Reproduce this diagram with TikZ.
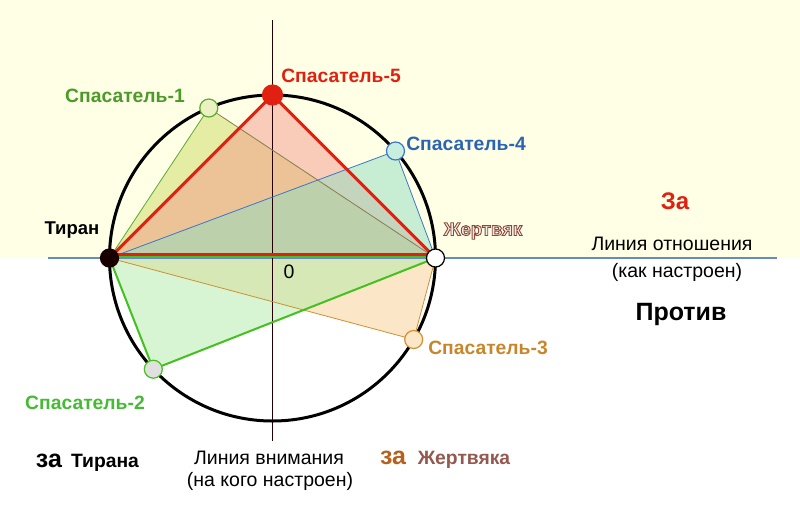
\documentclass[tikz,border=0pt]{standalone}
\usepackage{fontspec}
\setmainfont{Liberation Sans}
\definecolor{bgyellow}{HTML}{FFFFE6}
\definecolor{cone}{HTML}{4C9A2A}
\definecolor{coneline}{HTML}{5AAA30}
\definecolor{conefill}{HTML}{CDDD64}
\definecolor{cfive}{HTML}{E02010}
\definecolor{cfivefill}{HTML}{F29A8C}
\definecolor{cfour}{HTML}{2A64B4}
\definecolor{cfourline}{HTML}{3A78C8}
\definecolor{cfourfill}{HTML}{91DDC2}
\definecolor{cthree}{HTML}{C8862A}
\definecolor{cthreeline}{HTML}{D09030}
\definecolor{cthreefill}{HTML}{F9CD91}
\definecolor{ctwo}{HTML}{44BB33}
\definecolor{ctwoline}{HTML}{44C020}
\definecolor{ctwofill}{HTML}{AFEBA5}
\definecolor{axisblue}{HTML}{6688CC}
\definecolor{zhlight}{HTML}{F7ECE4}
\definecolor{zaorange}{HTML}{B5601E}
\definecolor{zhtext}{HTML}{93584E}
\definecolor{olivedge}{HTML}{8A7A50}
\newcommand{\outlinedtext}[1]{\special{pdf:literal direct 0.545 0.29 0.227 RG 0.9 w 2 Tr}#1\special{pdf:literal direct 0 Tr}}
\begin{document}
\begin{tikzpicture}[x=1pt,y=-1pt,
  lbl/.style={font=\bfseries\fontsize{19.3}{22}\selectfont, inner sep=0pt},
  txt/.style={font=\fontsize{19.5}{22}\selectfont, inner sep=0pt},
  ptmark/.style={circle, inner sep=0pt, minimum size=18pt, line width=1.2pt},
  thinedge/.style={line width=0.8pt},
  trifill/.style={fill opacity=0.5},
]
\useasboundingbox (0,0) rectangle (800,507);
\fill[bgyellow] (0,0) rectangle (800,258);
% geometry
\coordinate (C) at (272.5,258);
\coordinate (pT) at (109.5,258);
\coordinate (pZ) at (435.5,258);
\coordinate (pS5) at (272.5,95);
\coordinate (pS1) at (208.8,108);
\coordinate (pS4) at (395.5,151);
\coordinate (pS3) at (413.7,339.5);
\coordinate (pS2) at (153.3,369.2);
\coordinate (hL) at (48,258);
\coordinate (hR) at (777,258);
\coordinate (vT) at (272.5,20);
\coordinate (vB) at (272.5,441);
% fills
\fill[conefill,trifill] (pT) -- (pS1) -- (pZ) -- cycle;
\fill[cfivefill,trifill] (pT) -- (pS5) -- (pZ) -- cycle;
\fill[cfourfill,trifill] (pT) -- (pS4) -- (pZ) -- cycle;
\fill[cthreefill,trifill] (pT) -- (pS3) -- (pZ) -- cycle;
\fill[ctwofill,trifill] (pT) -- (pS2) -- (pZ) -- cycle;
% axes
\draw[axisblue, line width=1.5pt] (hL) -- (hR);
\draw[black!85!red, line width=1.4pt] (vT) -- (vB);
% circle
\draw[black, line width=3pt] (C) circle (163);
% edges
\draw[coneline, thinedge] (pT) -- (pS1);
\draw[olivedge, thinedge] (pS1) -- (pZ);
\draw[cfourline, thinedge] (pT) -- (pS4) -- (pZ);
\draw[cthreeline, thinedge] (pT) -- (pS3) -- (pZ);
\draw[ctwoline, line width=2pt] (pT) -- (pS2) -- (pZ);
\draw[ctwoline, line width=2pt] ([yshift=1pt]pT) -- ([yshift=1pt]pZ);
\draw[cfive, line width=3pt, line join=round] ([yshift=3.5pt]pT) -- ([yshift=3.5pt]pZ);
\draw[cfive, line width=3pt, line join=round] (pT) -- (pS5) -- (pZ);
% point markers
\node[ptmark, fill=black!90!red, draw=black!90!red] (T) at (pT) {};
\node[ptmark, fill=white, draw=black] (Z) at (pZ) {};
\node[ptmark, fill=cfive, draw=cfive, minimum size=20pt] (S5) at (pS5) {};
\node[ptmark, fill=conefill!40!white, draw=coneline] (S1) at (pS1) {};
\node[ptmark, fill=cfourfill!50!white, draw=cfourline] (S4) at (pS4) {};
\node[ptmark, fill=cthreefill!50!white, draw=cthreeline] (S3) at (pS3) {};
\node[ptmark, fill=black!12!white, draw=ctwoline] (S2) at (pS2) {};
% labels
\node[lbl, text=cone] (l1) at (125,96) {Спасатель-1};
\node[lbl, text=cfive] (l5) at (341,76) {Спасатель-5};
\node[lbl, text=cfour] (l4) at (466,144) {Спасатель-4};
\node[lbl, text=cthree] (l3) at (488,348) {Спасатель-3};
\node[lbl, text=ctwo] (l2) at (85,403) {Спасатель-2};
\node[lbl, text=black, font=\bfseries\fontsize{18.5}{22}\selectfont] (lT) at (72,230) {Тиран};
\node[lbl, text=zhlight, font=\bfseries\fontsize{18.5}{22}\selectfont] (lZ) at (483,231) {\outlinedtext{Жертвяк}};
\node[txt] (zero) at (289,272) {0};
\node[font=\bfseries\fontsize{24}{28}\selectfont, text=cfive, inner sep=0pt] (za) at (675,201) {За};
\node[txt] (lo) at (672,244) {Линия отношения};
\node[txt] (kn) at (677,272) {(как настроен)};
\node[font=\bfseries\fontsize{25}{28}\selectfont, inner sep=0pt] (pr) at (681,314) {Против};
\node[font=\bfseries\fontsize{25}{28}\selectfont, inner sep=0pt, anchor=base] (zaT) at (49,467) {за};
\node[lbl, anchor=base] (ti) at (105,467) {Тирана};
\node[txt] (lv) at (269,458) {Линия внимания};
\node[txt] (nk) at (270,481) {(на кого настроен)};
\node[font=\bfseries\fontsize{25}{28}\selectfont, text=zaorange, inner sep=0pt, anchor=base] (zaZ) at (393,464) {за};
\node[lbl, text=zhtext, anchor=base] (zhk) at (464,464) {Жертвяка};
\end{tikzpicture}
\end{document}
